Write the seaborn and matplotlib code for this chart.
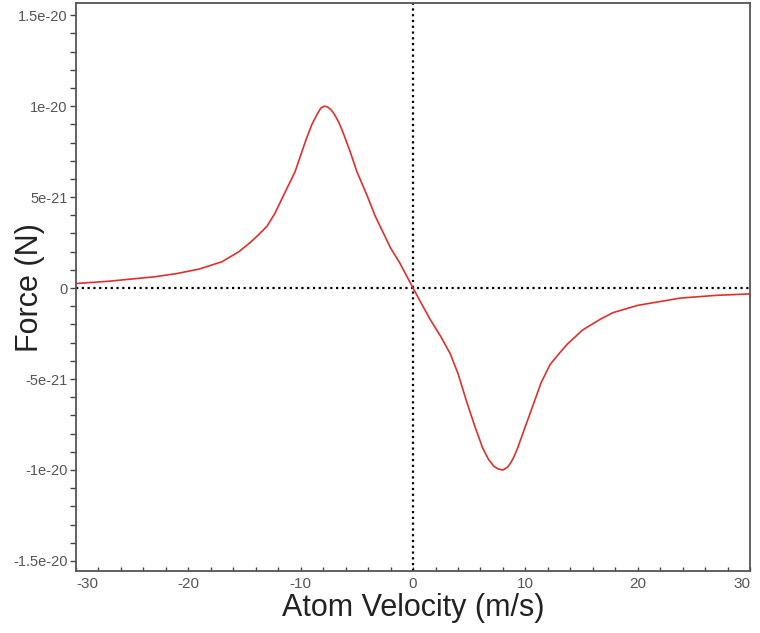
import numpy as np
import pandas as pd
import matplotlib
matplotlib.use("Agg")
import matplotlib.pyplot as plt
from matplotlib.ticker import MultipleLocator
import seaborn as sns

# atom velocity (m/s) and force (in units of 1e-21 N)
velocity = [-30, -27, -25, -23, -21, -19, -17, -15.5, -14.5, -13.8, -13, -12.3,
            -11.6, -10.5, -10, -9.5, -9, -8.5, -8.2, -7.9, -7.6, -7.3, -7.0,
            -6.6, -6.2, -5.6, -5.0, -4.1, -3.4, -2.7, -2.0, -1.2, -0.6, 0,
            0.7, 1.5, 2.5, 3.3, 4.0, 4.8, 5.5, 6.2, 6.7, 7.2, 7.6, 8.0, 8.4,
            8.7, 9.0, 9.3, 10.0, 10.7, 11.4, 12.2, 13.0, 13.7, 15.1,
            16.7, 17.8, 20, 23.8, 27, 30]
force_e21 = [0.25, 0.38, 0.5, 0.62, 0.8, 1.05, 1.45, 2.0, 2.5, 2.9, 3.4, 4.1,
             5.0, 6.4, 7.3, 8.2, 9.0, 9.6, 9.9, 10.0, 9.95, 9.8, 9.55,
             9.1, 8.5, 7.5, 6.4, 5.1, 4.0, 3.1, 2.2, 1.4, 0.7, 0.0,
             -0.8, -1.7, -2.7, -3.6, -4.7, -6.3, -7.6, -8.8, -9.4, -9.8, -9.95, -10.0, -9.85,
             -9.6, -9.25, -8.8, -7.6, -6.4, -5.2, -4.2, -3.6, -3.1, -2.3,
             -1.7, -1.35, -0.95, -0.55, -0.4, -0.32]

y_ticks = [-1.5e-20, -1e-20, -5e-21, 0, 5e-21, 1e-20, 1.5e-20]
y_tick_labels = ["-1.5e-20", "-1e-20", "-5e-21", "0", "5e-21", "1e-20", "1.5e-20"]
x_ticks = [-30, -20, -10, 0, 10, 20, 30]
x_tick_labels = ["-30", "-20", "-10", "0", "10", "20", "30"]

df = pd.DataFrame({"velocity": velocity,
                   "force": np.array(force_e21) * 1e-21})

sns.set_theme(style="white")
plt.rcParams["font.family"] = ["Liberation Sans", "DejaVu Sans"]
plt.rcParams["axes.unicode_minus"] = False

fig = plt.figure(figsize=(7.6, 6.33), dpi=100)
ax = fig.add_axes([0.1, 0.098, 0.887, 0.897])

# dotted zero lines
ax.axhline(0, color="black", linestyle=(0, (1, 1.6)), linewidth=1.6, zorder=1)
ax.axvline(0, color="black", linestyle=(0, (1, 1.6)), linewidth=1.6, zorder=1)
sns.lineplot(data=df, x="velocity", y="force", color="#e0302c", linewidth=1.2,
             ax=ax, zorder=2)

ax.set_xlim(-30, 30)
ax.set_ylim(-1.555e-20, 1.566e-20)
ax.set_xticks(x_ticks)
ax.set_xticklabels(x_tick_labels)
ax.set_yticks(y_ticks)
ax.set_yticklabels(y_tick_labels)
ax.xaxis.set_minor_locator(MultipleLocator(2))
ax.yaxis.set_minor_locator(MultipleLocator(1e-21))

ax.tick_params(axis="x", which="both", direction="in", length=3, width=1,
               colors="#444444", labelsize=11, pad=4)
ax.tick_params(axis="y", which="both", direction="out", length=4, width=1,
               colors="#444444", labelsize=10.5, pad=2)
ax.tick_params(axis="both", which="both", labelcolor="#555555")
ax.tick_params(left=True, bottom=True, which="both")

# end labels on the x axis stay inside the frame
xlabels = ax.get_xticklabels()
xlabels[0].set_horizontalalignment("left")
xlabels[-1].set_horizontalalignment("right")

for side in ["left", "bottom", "top", "right"]:
    ax.spines[side].set_color("#555555")
    ax.spines[side].set_linewidth(1.3)

ax.set_xlabel("Atom Velocity (m/s)", fontsize=22, color="#222222", labelpad=2)
ax.set_ylabel("Force (N)", fontsize=22, color="#222222")
ax.yaxis.set_label_coords(-0.046, 0.5)

fig.savefig("out.png", dpi=100)
plt.close(fig)
